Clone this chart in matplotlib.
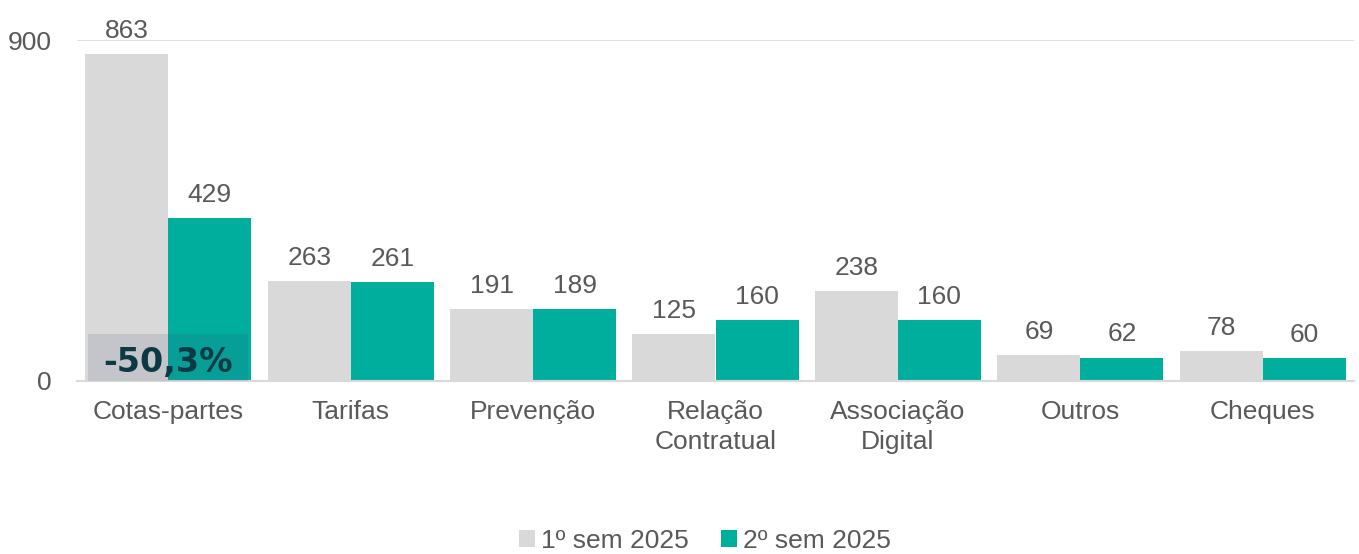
import matplotlib.pyplot as plt
import numpy as np
from matplotlib.patches import Rectangle

# data
categorias = ["Cotas-partes", "Tarifas", "Prevenção", "Relação\nContratual",
              "Associação\nDigital", "Outros", "Cheques"]
sem1 = [863, 263, 191, 125, 238, 69, 78]
sem2 = [429, 261, 189, 160, 160, 62, 60]
series = ["1º sem 2025", "2º sem 2025"]
destaque = "-50,3%"

cinza = "#D9D9D9"
verde = "#00AE9D"
texto = "#595959"

plt.rcParams['font.family'] = ['Liberation Sans', 'DejaVu Sans']

fig = plt.figure(figsize=(13.59, 5.54), dpi=100)
ax = fig.add_axes([77 / 1359, 1 - 381 / 554, (1354 - 77) / 1359, 341 / 554])

x = np.arange(len(categorias))
w = 0.455
b1 = ax.bar(x - w / 2, sem1, w, color=cinza, label=series[0])
b2 = ax.bar(x + w / 2, sem2, w, color=verde, label=series[1])

for bars in (b1, b2):
    for r in bars:
        ax.annotate(str(int(r.get_height())), (r.get_x() + r.get_width() / 2, r.get_height()),
                    xytext=(0, 8), textcoords="offset points", ha="center", va="bottom",
                    fontsize=19, color=texto)

# caixa de destaque sobre o primeiro grupo
ax.add_patch(Rectangle((-0.44, 0), 0.875, 124, facecolor="#3A3A70", alpha=0.13,
                       edgecolor="none", zorder=3))
ax.text(0, 50, destaque, ha="center", va="center", fontsize=24, fontweight="heavy",
        color="#0B3A44", family="DejaVu Sans", zorder=4)

ax.set_xlim(-0.5, len(categorias) - 0.5)
ax.set_ylim(0, 900)
ax.set_yticks([0, 900])
ax.set_xticks(x)
ax.set_xticklabels(categorias, fontsize=19, color=texto, linespacing=1.3)
ax.tick_params(axis="y", labelsize=19, labelcolor=texto, length=0, pad=18)
ax.tick_params(axis="x", length=0, pad=14)
ax.axhline(900, color="#D9D9D9", lw=1.2, zorder=0)
for s in ["top", "right", "left"]:
    ax.spines[s].set_visible(False)
ax.spines["bottom"].set_color("#D9D9D9")
ax.spines["bottom"].set_linewidth(1.5)

fig.legend(loc="center", bbox_to_anchor=(705 / 1359, 1 - 541 / 554), ncol=2, frameon=False,
           fontsize=19, labelcolor=texto, handlelength=0.6, handleheight=0.6,
           handletextpad=0.25, columnspacing=1.2)

fig.savefig("out.png", dpi=100)
